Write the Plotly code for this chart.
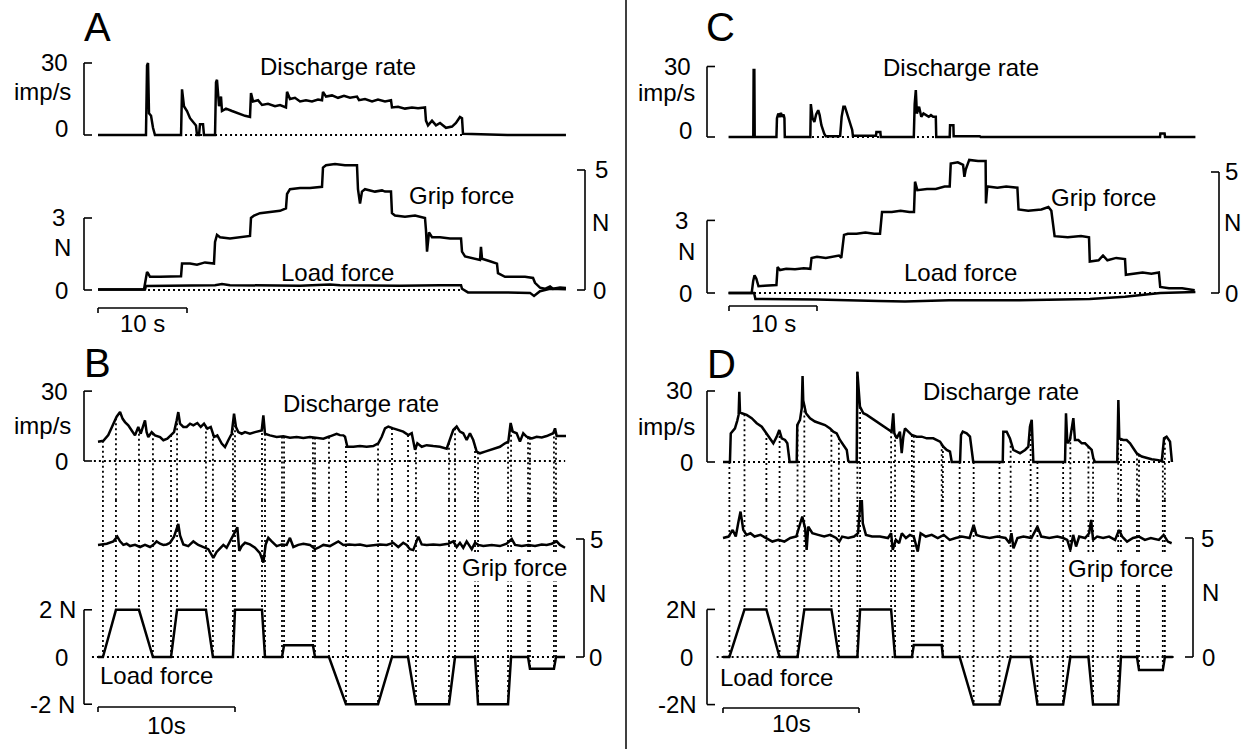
import numpy as np
import plotly.graph_objects as go

W, H = 1250, 749
FONT = "Liberation Sans, Arial, Helvetica, sans-serif"
INK = "black"

# ---------------- recorded traces (time in s, rate in imp/s, force in N) ----------------
# A: slowly increasing / decreasing grip force, small load
A_rate_t = [0, 5.39, 5.51, 5.62, 5.73, 5.96, 6.18, 6.40, 9.33, 9.44, 9.66, 10.0, 10.34, 10.79, 11.01, 11.12,
            11.35, 11.46, 11.80, 11.91, 13.15, 13.26, 13.37, 13.60, 13.82, 13.93, 14.38, 15.06, 15.73, 16.52, 17.08,
            17.19, 17.42, 17.98, 18.43, 19.10, 19.89, 20.45, 21.12, 21.24, 21.57, 22.13, 22.70, 23.37, 24.04, 24.72,
            25.17, 25.28, 25.62, 26.29, 26.97, 27.64, 28.31, 29.10, 29.33, 30.0, 30.79, 31.46, 32.25, 32.92, 33.03,
            33.71, 34.49, 35.28, 35.96, 36.74, 36.85, 37.08, 37.53, 37.98, 38.43, 39.10, 39.78, 40.22, 40.67, 40.90,
            41.01, 45.0, 46.0, 52.58]
A_rate = [0, 0, 29, 30, 9, 8, 3, 0, 0, 19, 12, 10, 7, 5, 4, 0,
          0, 4.5, 4.5, 0, 0, 22, 23, 12, 16, 10, 11, 10, 9, 8, 7.5,
          17.5, 14, 14.5, 12.5, 13, 12, 12.5, 11.5, 18, 15, 15.5, 14, 14.5, 14, 14.8,
          14.5, 18, 16, 16.5, 15.5, 16.3, 15.5, 16, 14.5, 15, 14, 14.8, 14, 14.5, 11.5,
          11.8, 11, 11.5, 11.2, 11.5, 6, 4, 6, 4, 5, 3, 3.5, 5, 7.5, 7,
          0.5, 0.3, 0, 0]
A_grip_t = [0, 5.17, 5.39, 5.51, 5.62, 5.84, 6.97, 8.09, 9.33, 9.44, 10.34, 11.12, 11.46, 12.02, 13.03,
            13.15, 13.37, 13.71, 14.83, 15.96, 17.08, 17.19, 17.53, 18.20, 19.33, 20.45, 21.12, 21.24, 21.57,
            22.70, 23.82, 25.17, 25.28, 25.62, 26.63, 27.75, 29.10, 29.21, 29.44, 29.66, 30.0, 31.12, 31.91,
            32.25, 32.92, 33.03, 33.37, 34.49, 35.62, 36.74, 36.85, 36.97, 37.19, 37.53, 38.43, 39.55, 40.79,
            40.90, 41.24, 42.36, 42.92, 43.03, 43.15, 44.04, 44.83, 44.94, 45.73, 46.85, 47.98, 48.88, 49.10,
            49.66, 50.22, 50.79, 51.12, 51.91, 52.58]
A_grip = [0.02, 0.02, 0.5, 0.75, 0.7, 0.55, 0.55, 0.55, 0.57, 1.1, 1.1, 1.05, 1.1, 1.15, 1.1,
          2.0, 2.3, 2.2, 2.15, 2.2, 2.25, 3.0, 3.1, 3.2, 3.25, 3.3, 3.4, 4.0, 4.2,
          4.25, 4.25, 4.3, 5.1, 5.2, 5.25, 5.2, 5.2, 4.2, 3.6, 4.1, 4.2, 4.1, 4.15,
          4.1, 4.1, 3.2, 3.1, 3.05, 3.1, 3.0, 2.5, 1.6, 2.4, 2.2, 2.2, 2.15, 2.15,
          1.6, 1.4, 1.3, 1.25, 1.8, 1.3, 1.2, 1.1, 0.7, 0.55, 0.55, 0.55, 0.5, 0.3,
          0.1, 0.05, 0.15, 0.05, 0.1, 0.08]
A_load_t = [0, 5.28, 5.39, 11.46, 13.15, 13.93, 14.83, 22.70, 26.07, 27.19, 33.93, 38.43, 40.79, 40.90,
            41.57, 45.17, 48.54, 48.99, 49.66, 50.79, 52.58]
A_load = [0.02, 0.02, 0.17, 0.18, 0.2, 0.25, 0.2, 0.18, 0.23, 0.2, 0.18, 0.2, 0.2, 0.05,
          -0.1, -0.1, -0.12, -0.25, -0.05, 0.05, 0.03]

# C: same protocol, second unit
C_rate_t = [-0.05, 2.76, 2.8, 2.88, 2.92, 5.39, 5.45, 5.6, 5.75, 5.9, 6.05, 6.2, 6.3, 6.34,
            9.24, 9.3, 9.5, 9.7, 9.9, 10.14, 10.3, 10.5, 10.82, 11.0, 12.5,
            12.63, 12.8, 13.0, 13.17, 13.4, 13.7, 14.0, 14.08, 16.7, 16.75, 17.2, 17.25,
            21.0, 21.1, 21.23, 21.35, 21.6, 21.85, 22.1, 22.4, 22.7, 22.95, 23.2, 23.5, 23.55,
            25.08, 25.12, 25.5, 25.53, 28.5, 28.6, 48.98, 49.02, 49.5, 49.55, 53.0]
C_rate = [0, 0, 28.5, 28.5, 0, 0, 8, 10, 8.5, 10.3, 8.6, 9.6, 8, 0,
          0, 14, 8, 6.4, 9.6, 11.4, 9.3, 5, 1.4, 0.3, 0.3,
          0.5, 8.6, 12.9, 12.9, 10, 6.4, 3.0, 0.5, 0.5, 2.1, 2.1, 0,
          0, 14, 20, 10, 12.9, 8.6, 10, 9.3, 8.6, 9.3, 8.6, 8.6, 0,
          0, 5, 5, 0.3, 0.3, 0, 0, 1.5, 1.5, 0, 0]
C_grip_t = [-0.05, 2.58, 2.75, 2.9, 3.1, 3.35, 4.0, 4.8, 5.39, 5.52, 5.8, 6.5, 7.5, 8.5, 9.24,
            9.38, 10.0, 11.0, 12.0, 12.5, 12.76, 13.07, 13.5, 14.5, 15.5, 16.5, 17.16,
            17.39, 18.5, 19.5, 20.5, 21.02, 21.14, 21.4, 22.5, 23.5, 24.5, 25.08,
            25.2, 26.0, 26.6, 26.75, 26.9, 27.3, 28.3, 29.16, 29.2, 29.35, 30.5, 31.5, 32.77,
            32.9, 34.0, 35.5, 36.3, 36.63, 37.0, 38.5, 40.0, 40.91, 41.0, 42.0, 42.5, 43.0, 44.0, 45.0,
            45.1, 46.0, 47.0, 48.0, 48.85, 49.0, 50.0, 51.5, 52.92]
C_grip = [0.0, 0.0, 0.5, 0.73, 0.6, 0.28, 0.3, 0.32, 0.33, 1.07, 0.95, 1.0, 0.98, 1.02, 1.0,
          1.45, 1.5, 1.45, 1.5, 1.55, 1.45, 2.4, 2.45, 2.45, 2.5, 2.45, 2.45,
          3.35, 3.35, 3.4, 3.35, 3.35, 4.6, 4.25, 4.3, 4.3, 4.4, 4.4,
          5.35, 5.4, 5.3, 4.8, 5.1, 5.5, 5.45, 5.45, 3.7, 4.4, 4.35, 4.4, 4.35,
          3.45, 3.4, 3.45, 3.55, 3.4, 2.35, 2.3, 2.35, 2.3, 1.3, 1.35, 1.55, 1.35, 1.45, 1.4,
          0.75, 0.8, 0.85, 0.8, 0.85, 0.25, 0.2, 0.2, 0.11]
C_load_t = [-0.05, 2.85, 3.0, 10.0, 17.0, 20.0, 25.0, 33.0, 41.0, 45.0, 49.0, 53.0]
C_load = [0.0, 0.0, -0.25, -0.27, -0.33, -0.35, -0.3, -0.3, -0.25, -0.15, 0.0, 0.04]

# B: constant grip, ramp-and-hold load changes
B_rate_t = [0, 0.39, 0.75, 1.12, 1.36, 1.61, 1.80, 1.97, 2.21, 2.46, 2.70, 2.94, 3.12, 3.31, 3.43, 3.55,
            3.67, 3.92, 4.16, 4.53, 4.77, 5.06, 5.31, 5.55, 5.74, 5.86, 5.99, 6.23, 6.47, 6.72, 6.96, 7.25,
            7.50, 7.74, 7.98, 8.23, 8.47, 8.71, 9.03, 9.27, 9.51, 9.76, 9.93, 10.07, 10.24, 10.49, 10.73,
            11.09, 11.46, 11.95, 12.07, 12.19, 12.55, 13.04, 13.53, 14.01, 14.50, 14.99, 15.47, 15.96, 16.45,
            16.93, 17.42, 17.66, 17.91, 18.03, 18.20, 18.64, 19.12, 19.61, 20.09, 20.46, 20.71, 20.95, 21.19,
            21.55, 21.92, 22.28, 22.65, 22.90, 23.14, 23.31, 23.63, 23.99, 24.47, 24.96, 25.45, 25.69, 25.93,
            26.18, 26.42, 26.66, 26.91, 27.15, 27.39, 27.64, 27.88, 28.25, 28.61, 28.98, 29.34, 29.71, 29.95,
            30.12, 30.27, 30.56, 30.80, 31.04, 31.29, 31.66, 32.02, 32.39, 32.75, 33.23, 33.36, 33.48, 33.85,
            34.16]
B_rate = [8.3, 8.7, 11.1, 16.1, 19, 21, 18.1, 16.7, 15.3, 13.1, 11, 14.6, 11.7, 15.3, 17.4, 12.4,
          10.3, 12.4, 11, 10.3, 8.9, 9.6, 11, 12.4, 17.4, 21, 16, 14.6, 14.6, 16, 15.3, 16.3,
          14.6, 16, 13.9, 14.6, 10.3, 11, 7.5, 6, 8.9, 11.7, 20.3, 14.6, 12.4, 11.7, 12.4,
          11.7, 12.4, 13.1, 19.6, 11.7, 11, 10.3, 10.6, 10, 10.3, 9.9, 10.3, 10, 9.6,
          10.6, 11.7, 11.1, 11.0, 10.4, 6.1, 6.1, 6.4, 6.1, 6.4, 7.6, 10.4, 14, 14.8,
          14, 13.3, 12.6, 11.1, 11.9, 4.8, 7.6, 6.1, 6.8, 6.4, 6.1, 5.3, 8.9, 13.3,
          14.8, 12.6, 11.9, 9, 11.9, 9, 4, 3.3, 4, 4.8, 5.5, 6.1, 7.6, 8.3,
          16.3, 12.6, 11.9, 8.3, 11.9, 10.4, 9.7, 10.4, 10.1, 10.7, 11.9, 14, 10.7, 10.7,
          10.7]
B_grip_t = [0, 0.27, 0.64, 1.12, 1.41, 1.61, 1.85, 2.09, 2.34, 2.70, 3.07, 3.43, 3.80, 4.04, 4.28, 4.53,
            4.77, 5.01, 5.26, 5.55, 5.74, 5.86, 5.99, 6.23, 6.59, 6.96, 7.32, 7.74, 8.05, 8.42, 8.66, 8.91,
            9.15, 9.39, 9.76, 10.0, 10.17, 10.31, 10.49, 10.73, 11.09, 11.46, 11.82, 12.07, 12.24, 12.43,
            12.68, 13.04, 13.41, 13.77, 14.01, 14.26, 14.62, 14.99, 15.47, 15.84, 16.08, 16.45, 16.93, 17.18,
            17.54, 17.91, 18.34, 18.76, 19.12, 19.61, 20.09, 20.58, 21.07, 21.55, 21.92, 22.28, 22.53, 22.77,
            23.01, 23.38, 23.63, 23.99, 24.47, 24.96, 25.57, 25.93, 26.18, 26.42, 26.66, 26.91, 27.28, 27.52,
            27.76, 28.12, 28.74, 29.34, 29.83, 30.20, 30.44, 30.93, 31.41, 31.90, 32.39, 32.75, 33.12, 33.48,
            33.72, 34.09]
B_grip = [4.75, 4.77, 4.8, 4.9, 5.1, 4.9, 4.75, 4.8, 4.7, 4.75, 4.66, 4.75, 4.66, 4.75, 4.9, 4.8,
          4.75, 4.77, 4.84, 5.1, 5.5, 5.64, 5.15, 4.77, 4.7, 4.9, 4.75, 4.63, 4.57, 4.2, 4.45, 4.6,
          4.75, 4.63, 5.0, 5.3, 5.5, 4.5, 4.7, 4.84, 4.77, 4.63, 4.4, 4.0, 4.77, 5.05,
          4.9, 4.7, 4.77, 4.75, 5.05, 4.66, 4.75, 4.8, 4.75, 4.57, 4.63, 4.75, 4.7, 4.77,
          4.9, 4.75, 4.77, 4.75, 4.77, 4.7, 4.75, 4.77, 4.75, 4.84, 4.66, 4.84, 4.75, 4.57,
          4.53, 5.1, 4.77, 4.75, 4.77, 4.75, 4.8, 4.9, 4.66, 4.84, 4.63, 4.9, 4.57, 4.84,
          4.75, 4.7, 4.75, 4.7, 4.8, 5.0, 4.75, 4.7, 4.75, 4.7, 4.77, 4.75, 4.8, 4.9,
          4.75, 4.63]
B_load_t = [0, 0.36, 1.31, 2.99, 4.01, 5.33, 5.77, 7.88, 8.39, 9.85, 10.0, 11.97, 12.19, 13.43, 13.58,
            15.69, 15.84, 16.86, 18.10, 20.44, 21.46, 22.63, 23.21, 25.62, 26.06, 27.52, 27.74, 29.93,
            30.15, 31.39, 31.53, 33.28, 33.43, 34.09]
B_load = [0, 0, 2, 2, 0, 0, 2, 2, 0, 0, 2, 2, 0, 0, 0.5,
          0.5, 0, 0, -2, -2, 0, 0, -2, -2, 0, 0, -2, -2,
          0, 0, -0.5, -0.5, 0, 0]

# D: same load sequence, second unit
D_rate_t = [0, 0.51, 0.57, 0.88, 1.05, 1.15, 1.20, 1.25, 1.38, 1.74,
            2.11, 2.48, 2.85, 3.21, 3.46, 3.70, 3.95, 4.14, 4.32, 4.56,
            4.73, 4.83, 4.9, 5.42, 5.46, 5.66, 5.79, 5.85, 5.90, 6.10,
            6.40, 6.76, 7.13, 7.50, 7.87, 8.11, 8.36, 8.60, 8.85, 9.10,
            9.21, 9.3, 9.83, 9.88, 10.07, 10.32, 10.57, 10.93, 11.30, 11.67,
            12.04, 12.40, 12.52, 12.60, 12.77, 13.01, 13.14, 13.26, 13.38, 13.63,
            13.88, 14.24, 14.61, 14.98, 15.46, 15.96, 16.20, 16.45, 16.69, 16.82,
            17.43, 17.50, 17.63, 17.92, 18.16, 18.40, 20.57, 20.61, 20.86, 21.10,
            21.35, 21.60, 21.84, 22.21, 22.45, 22.57, 22.70, 22.82, 25.15, 25.22,
            25.32, 25.51, 25.76, 25.88, 26.13, 26.38, 26.62, 26.87, 27.11, 27.23,
            27.35, 28.99, 29.07, 29.14, 29.43, 29.68, 29.93, 30.17, 30.42, 30.79,
            31.15, 31.52, 32.01, 32.26, 32.43, 32.62, 32.87, 33.01]
D_rate = [0, 0, 12.1, 14.2, 17.5, 20, 29.7, 21, 20.6, 19.9,
          18.5, 16.4, 14.9, 12.1, 10.0, 7.9, 10.7, 13.5, 10.0, 9.3,
          7.9, 1.6, 0, 0, 15.6, 17.8, 22.7, 36.3, 26, 20.6,
          18.5, 17.1, 16.4, 15.6, 14.2, 12.8, 12.1, 9.3, 7.2, 5.1,
          0.5, 0, 0, 38.1, 23.4, 20.6, 19.9, 18.5, 17.1, 15.6,
          14.2, 12.8, 20.6, 12.1, 10.0, 12.8, 3.7, 10.7, 14.2, 12.8,
          11.4, 10.7, 10.7, 10.0, 10.0, 8.6, 6.5, 5.1, 4.4, 0,
          0, 11.4, 12.8, 12.1, 10.7, 0, 0, 12.8, 12.8, 10.0,
          5.1, 4.4, 3.7, 5.1, 6.5, 14.9, 17.8, 0, 0, 20.6,
          7.9, 9.3, 18.5, 9.3, 9.3, 7.9, 7.9, 6.5, 5.1, 1.6,
          0, 0, 26.2, 10.0, 9.3, 9.3, 7.9, 5.8, 3.7, 2.3,
          1.6, 1.2, 0.8, 0.3, 10.0, 10.7, 8.6, 0]
D_grip_t = [0, 0.41, 0.71, 0.94, 1.14, 1.29, 1.49, 1.73, 2.02, 2.32,
            2.76, 3.19, 3.63, 4.07, 4.51, 4.95, 5.39, 5.68, 5.83, 6.04,
            6.15, 6.27, 6.57, 7.0, 7.44, 7.88, 8.32, 8.55, 8.76, 9.20,
            9.64, 9.93, 10.08, 10.17, 10.28, 10.51, 10.96, 11.54, 12.13, 12.36,
            12.48, 12.71, 12.95, 13.15, 13.45, 13.74, 14.03, 14.32, 14.53, 14.91,
            15.35, 15.79, 16.23, 16.67, 17.11, 17.55, 18.13, 18.43, 18.63, 19.01,
            19.60, 20.18, 20.77, 21.07, 21.21, 21.36, 21.65, 22.09, 22.68, 23.12,
            23.40, 23.99, 24.58, 25.01, 25.31, 25.54, 25.75, 25.96, 26.19, 26.63,
            26.92, 27.07, 27.21, 27.51, 27.95, 28.39, 28.83, 29.12, 29.35, 29.71,
            30.15, 30.59, 31.02, 31.46, 32.05, 32.40, 32.71, 32.99]
D_grip = [5.0, 5.06, 5.34, 5.06, 5.69, 6.11, 5.34, 5.13, 5.2, 5.06,
          5.13, 5.0, 4.85, 4.92, 4.85, 5.0, 5.06, 5.62, 5.9, 5.41,
          4.5, 5.48, 5.2, 5.13, 5.06, 5.13, 5.0, 4.85, 5.06, 5.0,
          5.06, 5.2, 6.18, 7.09, 5.62, 5.13, 5.06, 5.06, 5.0, 5.2,
          4.5, 4.92, 4.78, 5.2, 5.0, 5.13, 5.06, 4.43, 5.2, 5.06,
          5.13, 5.0, 5.13, 4.92, 5.0, 5.06, 5.0, 5.55, 5.13, 5.06,
          5.0, 5.06, 5.0, 4.78, 5.2, 4.57, 5.0, 5.06, 5.0, 5.48,
          5.06, 5.0, 5.06, 5.0, 4.92, 4.5, 5.13, 4.64, 5.06, 5.0,
          5.2, 5.76, 4.92, 5.06, 5.0, 5.06, 4.92, 5.34, 5.06, 4.85,
          5.0, 5.06, 4.92, 5.0, 4.92, 5.13, 4.85, 4.78]
D_load_t = [0, 0.47, 1.58, 3.19, 4.16, 5.48, 5.98, 7.97, 8.52, 9.88, 10.08, 12.36, 12.65, 13.89, 14.03,
            16.08, 16.17, 17.40, 18.43, 20.33, 21.15, 22.62, 23.12, 25.01, 25.54, 26.87, 27.21, 29.06,
            29.26, 30.44, 30.59, 32.34, 32.49, 33.07]
D_load = [0, 0, 2, 2, 0, 0, 2, 2, 0, 0, 2, 2, 0, 0, 0.5,
          0.5, 0, 0, -2, -2, 0, 0, -2, -2, 0, 0, -2, -2,
          0, 0, -0.55, -0.55, 0, 0]

for a, b in [(A_rate_t, A_rate), (A_grip_t, A_grip), (A_load_t, A_load),
             (C_rate_t, C_rate), (C_grip_t, C_grip), (C_load_t, C_load),
             (B_rate_t, B_rate), (B_grip_t, B_grip), (B_load_t, B_load),
             (D_rate_t, D_rate), (D_grip_t, D_grip), (D_load_t, D_load)]:
    assert len(a) == len(b), (len(a), len(b))

# ---------------- panel geometry (pixels) ----------------
PANELS = {
    "A": dict(x="x", yr="y", yf="y2", origin=98, pps=8.9, xdom=(60, 600),
              r0=135, rppu=2.4, rdom=(40, 145), f0=290, fppu=24.0, fdom=(150, 300)),
    "B": dict(x="x2", yr="y3", yf="y4", origin=98, pps=13.7, xdom=(60, 600),
              r0=461, rppu=2.33, rdom=(360, 500), f0=657, fppu=23.6, fdom=(500, 720)),
    "C": dict(x="x3", yr="y5", yf="y6", origin=729, pps=8.8, xdom=(690, 1240),
              r0=137, rppu=2.35, rdom=(40, 147), f0=293, fppu=24.2, fdom=(150, 303)),
    "D": dict(x="x4", yr="y7", yf="y8", origin=723, pps=13.6, xdom=(690, 1240),
              r0=462, rppu=2.367, rdom=(360, 500), f0=657, fppu=23.8, fdom=(500, 720)),
}


def key(axid):
    return axid[0] + "axis" + axid[1:]


def yrange(zero, ppu, dom):
    return [(zero - dom[1]) / ppu, (zero - dom[0]) / ppu]


layout_axes = {}
for p in PANELS.values():
    xr = [(p["xdom"][0] - p["origin"]) / p["pps"], (p["xdom"][1] - p["origin"]) / p["pps"]]
    p["xrange"] = xr
    p["rrange"] = yrange(p["r0"], p["rppu"], p["rdom"])
    p["frange"] = yrange(p["f0"], p["fppu"], p["fdom"])
    layout_axes[key(p["x"])] = dict(domain=[p["xdom"][0] / W, p["xdom"][1] / W], range=xr,
                                    visible=False, anchor=p["yr"])
    layout_axes[key(p["yr"])] = dict(domain=[1 - p["rdom"][1] / H, 1 - p["rdom"][0] / H],
                                     range=p["rrange"], visible=False, anchor=p["x"])
    layout_axes[key(p["yf"])] = dict(domain=[1 - p["fdom"][1] / H, 1 - p["fdom"][0] / H],
                                     range=p["frange"], visible=False, anchor=p["x"])

fig = go.Figure()
TRACE_W = 2.5


def line(p, axis, t, v):
    fig.add_trace(go.Scatter(x=t, y=v, mode="lines", xaxis=p["x"], yaxis=p[axis],
                             line=dict(color=INK, width=TRACE_W), hoverinfo="skip",
                             showlegend=False))


SERIES = {
    "A": (A_rate_t, A_rate, A_grip_t, A_grip, A_load_t, A_load),
    "B": (B_rate_t, B_rate, B_grip_t, B_grip, B_load_t, B_load),
    "C": (C_rate_t, C_rate, C_grip_t, C_grip, C_load_t, C_load),
    "D": (D_rate_t, D_rate, D_grip_t, D_grip, D_load_t, D_load),
}

shapes = []
annotations = []
DOT = "2px,3px"
DOT_W = 1.8


def seg(xref, yref, x0, y0, x1, y1, width=1.6, dash=None):
    d = dict(type="line", xref=xref, yref=yref, x0=x0, y0=y0, x1=x1, y1=y1,
             line=dict(color=INK, width=width), layer="below")
    if dash:
        d["line"]["dash"] = dash
    shapes.append(d)


def text(s, x, y, xref="paper", yref="paper", size=24, xanchor="center", yshift=0, bg=None):
    a = dict(text=s, x=x, y=y, xref=xref, yref=yref, showarrow=False,
             xanchor=xanchor, yanchor="middle", yshift=yshift,
             font=dict(family=FONT, size=size, color=INK))
    if bg:
        a["bgcolor"] = bg
        a["borderpad"] = 0
    annotations.append(a)


def bracket(xpx, yref, lo, hi, side, tick=8):
    seg("paper", yref, xpx / W, lo, xpx / W, hi)
    seg("paper", yref, xpx / W, lo, (xpx + side * tick) / W, lo)
    seg("paper", yref, xpx / W, hi, (xpx + side * tick) / W, hi)


# dotted zero references (time extents in s)
ZERO_RATE = {"A": (9.78, 40.9), "B": (-0.3, 34.1), "C": (9.43, 23.4), "D": (0.0, 33.0)}
ZERO_FORCE = {"A": (5.62, 40.9), "B": (-0.44, 34.1), "C": (2.84, 49.3), "D": (-0.47, 33.15)}

for name, p in PANELS.items():
    rt, rv, gt, gv, lt, lv = SERIES[name]
    line(p, "yr", rt, rv)
    line(p, "yf", gt, gv)
    line(p, "yf", lt, lv)
    a, b = ZERO_RATE[name]
    seg(p["x"], p["yr"], a, 0, b, 0, width=DOT_W, dash=DOT)
    a, b = ZERO_FORCE[name]
    seg(p["x"], p["yf"], a, 0, b, 0, width=DOT_W, dash=DOT)

# event markers: load-force breakpoints joined to the discharge trace
for name in ("B", "D"):
    p = PANELS[name]
    rt, rv, gt, gv, lt, lv = SERIES[name]
    for tb, lval in zip(lt[1:-1], lv[1:-1]):
        dv = float(np.interp(tb, rt, rv))
        seg(p["x"], p["yr"], tb, dv, tb, p["rrange"][0], width=DOT_W, dash=DOT)
        seg(p["x"], p["yf"], tb, p["frange"][1], tb, lval, width=DOT_W, dash=DOT)

# ---------------- scale brackets and their labels ----------------
# A
pA = PANELS["A"]
bracket(84, pA["yr"], 0, 30, +1)
text("30", 70 / W, 30, yref=pA["yr"], xanchor="right")
text("imp/s", 73 / W, 18, yref=pA["yr"], xanchor="right")
text("0", 70 / W, 0, yref=pA["yr"], xanchor="right", yshift=6)
bracket(84, pA["yf"], 0, 3, +1)
text("3", 67 / W, 3, yref=pA["yf"], xanchor="right")
text("N", 73 / W, 1.75, yref=pA["yf"], xanchor="right")
text("0", 70 / W, 0, yref=pA["yf"], xanchor="right")
bracket(585, pA["yf"], 0, 5, -1)
text("5", 593 / W, 5, yref=pA["yf"], xanchor="left")
text("N", 590 / W, 2.83, yref=pA["yf"], xanchor="left")
text("0", 591 / W, 0, yref=pA["yf"], xanchor="left")

# C
pC = PANELS["C"]
bracket(707, pC["yr"], 0, 30, +1)
text("30", 693 / W, 30, yref=pC["yr"], xanchor="right")
text("imp/s", 697 / W, 19, yref=pC["yr"], xanchor="right")
text("0", 694 / W, 0, yref=pC["yr"], xanchor="right", yshift=6)
bracket(707, pC["yf"], 0, 3, +1)
text("3", 690 / W, 3, yref=pC["yf"], xanchor="right")
text("N", 697 / W, 1.7, yref=pC["yf"], xanchor="right")
text("0", 694 / W, 0, yref=pC["yf"], xanchor="right")
bracket(1219, pC["yf"], 0, 5, -1)
text("5", 1223 / W, 5, yref=pC["yf"], xanchor="left")
text("N", 1222 / W, 2.93, yref=pC["yf"], xanchor="left")
text("0", 1223 / W, 0, yref=pC["yf"], xanchor="left")

# B
pB = PANELS["B"]
bracket(84, pB["yr"], 0, 30, +1)
text("30", 70 / W, 30, yref=pB["yr"], xanchor="right")
text("imp/s", 73 / W, 15.4, yref=pB["yr"], xanchor="right")
text("0", 70 / W, 0, yref=pB["yr"], xanchor="right")
bracket(84, pB["yf"], -2, 2, +1)
text("2 N", 78 / W, 2, yref=pB["yf"], xanchor="right")
text("0", 70 / W, 0, yref=pB["yf"], xanchor="right")
text("-2 N", 77 / W, -2, yref=pB["yf"], xanchor="right")
bracket(584, pB["yf"], 0, 5, -1)
text("5", 588 / W, 5, yref=pB["yf"], xanchor="left")
text("N", 587 / W, 2.7, yref=pB["yf"], xanchor="left")
text("0", 587 / W, 0, yref=pB["yf"], xanchor="left")

# D
pD = PANELS["D"]
bracket(707, pD["yr"], 0, 30, +1)
text("30", 695 / W, 30, yref=pD["yr"], xanchor="right")
text("imp/s", 697 / W, 14.8, yref=pD["yr"], xanchor="right")
text("0", 695 / W, 0, yref=pD["yr"], xanchor="right")
bracket(707, pD["yf"], -2, 2, +1)
text("2N", 699 / W, 2, yref=pD["yf"], xanchor="right")
text("0", 695 / W, 0, yref=pD["yf"], xanchor="right")
text("-2N", 699 / W, -2, yref=pD["yf"], xanchor="right")
bracket(1193, pD["yf"], 0, 5, -1)
text("5", 1199 / W, 5, yref=pD["yf"], xanchor="left")
text("N", 1200 / W, 2.69, yref=pD["yf"], xanchor="left")
text("0", 1200 / W, 0, yref=pD["yf"], xanchor="left")

# ---------------- time scale bars (10 s) ----------------
BARS = {"A": (308, 323, "10 s"), "C": (306, 323, "10 s"), "B": (707, 725, "10s"), "D": (708, 723, "10s")}
for name, (ybar, ylab, lab) in BARS.items():
    p = PANELS[name]
    yb = 1 - ybar / H
    ye = 1 - (ybar + 5) / H
    seg(p["x"], "paper", 0, yb, 10, yb)
    seg(p["x"], "paper", 0, yb, 0, ye)
    seg(p["x"], "paper", 10, yb, 10, ye)
    text(lab, 5, 1 - ylab / H, xref=p["x"])

# ---------------- trace names and panel letters ----------------
for s, x, y, bg in [("Discharge rate", 338, 67, None), ("Grip force", 461, 195, None),
                    ("Load force", 338, 272, None),
                    ("Discharge rate", 961, 68, None), ("Grip force", 1103, 197, None),
                    ("Load force", 960, 273, None),
                    ("Discharge rate", 361, 403, None), ("Grip force", 514, 567, "white"),
                    ("Load force", 156, 675, None),
                    ("Discharge rate", 1001, 392, None), ("Grip force", 1120, 568, "white"),
                    ("Load force", 776, 677, None)]:
    text(s, x / W, 1 - y / H, bg=bg)

for s, x, y in [("A", 97, 27), ("C", 720, 27), ("B", 97, 363), ("D", 721, 364)]:
    text(s, x / W, 1 - y / H, size=40)

# divider between the two columns
shapes.append(dict(type="line", xref="paper", yref="paper", x0=626 / W, x1=626 / W, y0=0, y1=1,
                   line=dict(color=INK, width=1.5)))

fig.update_layout(
    width=W, height=H, autosize=False,
    margin=dict(l=0, r=0, t=0, b=0, pad=0),
    paper_bgcolor="white", plot_bgcolor="rgba(0,0,0,0)",
    showlegend=False,
    shapes=shapes, annotations=annotations,
    font=dict(family=FONT, color=INK),
    **layout_axes,
)

fig.write_html("out.html", config={"displayModeBar": False})
